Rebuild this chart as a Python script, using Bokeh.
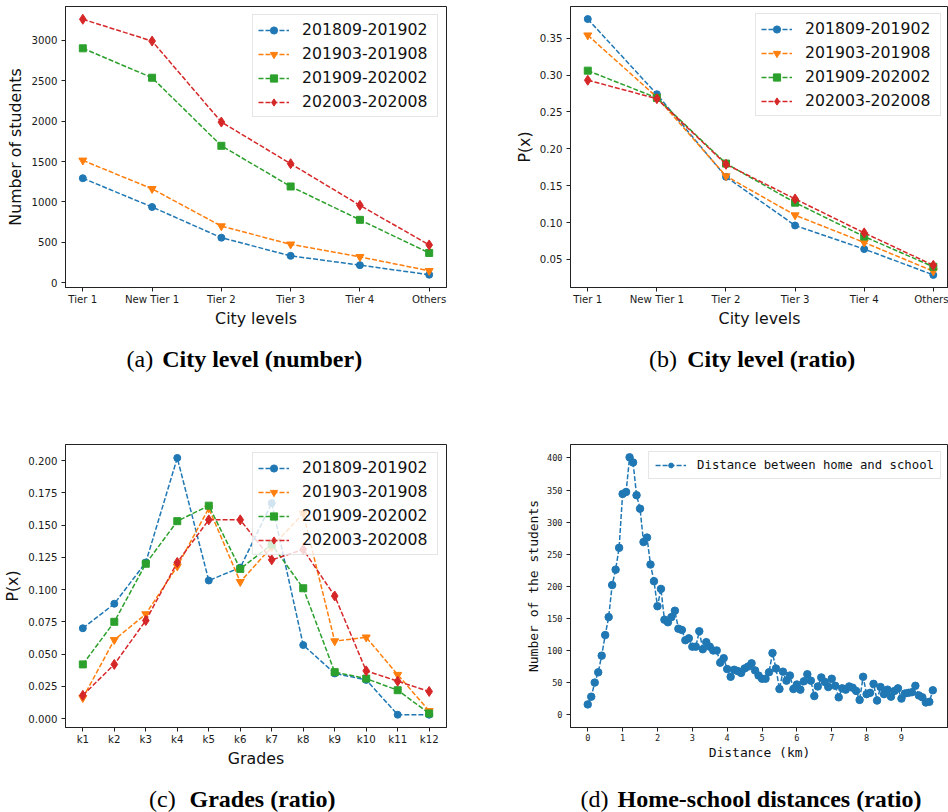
from bokeh.plotting import figure
from bokeh.layouts import column, row
from bokeh.models import FixedTicker, Range1d, PrintfTickFormatter
from bokeh.core.properties import value
from bokeh.embed import file_html
from bokeh.resources import INLINE

# ---------------- data ----------------
city_levels = ["Tier 1", "New Tier 1", "Tier 2", "Tier 3", "Tier 4", "Others"]
periods = ["201809-201902", "201903-201908", "201909-202002", "202003-202008"]

city_count_201809 = [1293, 937, 557, 332, 217, 98]
city_count_201903 = [1514, 1162, 700, 475, 319, 147]
city_count_201909 = [2902, 2538, 1695, 1191, 778, 368]
city_count_202003 = [3262, 2992, 1989, 1473, 958, 467]

city_ratio_201809 = [0.376, 0.274, 0.162, 0.096, 0.064, 0.029]
city_ratio_201903 = [0.354, 0.270, 0.163, 0.110, 0.073, 0.034]
city_ratio_201909 = [0.306, 0.269, 0.180, 0.127, 0.081, 0.040]
city_ratio_202003 = [0.293, 0.268, 0.179, 0.132, 0.086, 0.042]

grades = ["k1", "k2", "k3", "k4", "k5", "k6", "k7", "k8", "k9", "k10", "k11", "k12"]
grade_ratio_201809 = [0.070, 0.089, 0.121, 0.202, 0.107, 0.117, 0.167, 0.057, 0.035, 0.030, 0.003, 0.003]
grade_ratio_201903 = [0.016, 0.061, 0.081, 0.118, 0.163, 0.106, 0.133, 0.159, 0.060, 0.063, 0.034, 0.006]
grade_ratio_201909 = [0.042, 0.075, 0.120, 0.153, 0.165, 0.116, 0.135, 0.101, 0.036, 0.031, 0.022, 0.004]
grade_ratio_202003 = [0.018, 0.042, 0.076, 0.121, 0.154, 0.154, 0.123, 0.131, 0.095, 0.037, 0.029, 0.021]

distance_km = [0.0, 0.1, 0.2, 0.3, 0.4, 0.5, 0.6, 0.7, 0.8, 0.9,
               1.0, 1.1, 1.2, 1.3, 1.4, 1.5, 1.6, 1.7, 1.8, 1.9,
               2.0, 2.1, 2.2, 2.3, 2.4, 2.5, 2.6, 2.7, 2.8, 2.9,
               3.0, 3.1, 3.2, 3.3, 3.4, 3.5, 3.6, 3.7, 3.8, 3.9,
               4.0, 4.1, 4.2, 4.3, 4.4, 4.5, 4.6, 4.7, 4.8, 4.9,
               5.0, 5.1, 5.2, 5.3, 5.4, 5.5, 5.6, 5.7, 5.8, 5.9,
               6.0, 6.1, 6.2, 6.3, 6.4, 6.5, 6.6, 6.7, 6.8, 6.9,
               7.0, 7.1, 7.2, 7.3, 7.4, 7.5, 7.6, 7.7, 7.8, 7.9,
               8.0, 8.1, 8.2, 8.3, 8.4, 8.5, 8.6, 8.7, 8.8, 8.9,
               9.0, 9.1, 9.2, 9.3, 9.4, 9.5, 9.6, 9.7, 9.8, 9.9]
distance_counts = [16, 28, 50, 66, 92, 124, 152, 202, 226, 260,
                   344, 347, 401, 393, 342, 321, 269, 276, 234, 208,
                   169, 196, 148, 144, 152, 162, 134, 132, 116, 119,
                   106, 106, 130, 102, 113, 106, 100, 100, 81, 88,
                   71, 59, 70, 68, 65, 72, 75, 80, 69, 61,
                   56, 56, 66, 96, 72, 40, 67, 53, 61, 40,
                   47, 39, 52, 63, 53, 29, 44, 58, 51, 43,
                   56, 45, 27, 41, 39, 44, 42, 37, 23, 59,
                   32, 34, 48, 22, 43, 32, 39, 28, 37, 41,
                   25, 33, 34, 35, 45, 30, 27, 19, 20, 38]

count_ticks = [0, 500, 1000, 1500, 2000, 2500, 3000]
ratio_ticks_b = [0.05, 0.10, 0.15, 0.20, 0.25, 0.30, 0.35]
ratio_ticks_c = [0.000, 0.025, 0.050, 0.075, 0.100, 0.125, 0.150, 0.175, 0.200]
dist_x_ticks = [0, 1, 2, 3, 4, 5, 6, 7, 8, 9]
dist_y_ticks = [0, 50, 100, 150, 200, 250, 300, 350, 400]

caption_tags_top = ["(a)", "(b)"]
caption_titles_top = ["City level (number)", "City level (ratio)"]
caption_tags_bottom = ["(c)", "(d)"]
caption_titles_bottom = ["Grades (ratio)", "Home-school distances (ratio)"]

# ---------------- style ----------------
COLORS = ["#1f77b4", "#ff7f0e", "#2ca02c", "#d62728"]
MARKERS = ["circle", "inverted_triangle", "square", "diamond"]
MSIZES = [7, 8, 7, 10]
DASH = "5 2"
EDGE = "#222222"
SANS = "DejaVu Sans"
MONO = "DejaVu Sans Mono"
SERIF = "Liberation Serif"


def make_fig(xr, yr, height, left, right, top, bottom):
    p = figure(width=474, height=height, x_range=Range1d(*xr), y_range=Range1d(*yr),
               output_backend="svg", toolbar_location=None,
               min_border_left=left, min_border_right=right,
               min_border_top=top, min_border_bottom=bottom)
    p.xgrid.visible = False
    p.ygrid.visible = False
    p.outline_line_color = EDGE
    p.outline_line_width = 1
    p.background_fill_color = "white"
    p.border_fill_color = "white"
    for ax in p.axis:
        ax.axis_line_color = EDGE
        ax.major_tick_line_color = EDGE
        ax.major_tick_out = 4
        ax.major_tick_in = 0
        ax.minor_tick_line_color = None
        ax.major_label_text_font = SANS
        ax.major_label_text_font_size = "10.2px"
        ax.major_label_text_color = "#1a1a1a"
        ax.axis_label_text_font = SANS
        ax.axis_label_text_font_size = "15.8px"
        ax.axis_label_text_font_style = "normal"
        ax.axis_label_text_color = "#111111"
    p.xaxis.major_label_standoff = 2
    p.xaxis.axis_label_standoff = 1
    p.yaxis.major_label_standoff = 4
    p.yaxis.axis_label_standoff = 4
    return p


def style_legend(p, margin, label_width=130):
    lg = p.legend[0]
    lg.location = "top_right"
    lg.margin = margin
    lg.padding = 5
    lg.spacing = 5
    lg.glyph_height = 18
    lg.glyph_width = 31
    lg.label_height = 18
    lg.label_width = label_width
    lg.label_standoff = 13
    lg.label_text_font = SANS
    lg.label_text_font_size = "15.7px"
    lg.label_text_color = "#111111"
    lg.border_line_color = "#cccccc"
    lg.border_line_width = 1
    lg.background_fill_alpha = 0.8


def plot_series(p, xs, series_list):
    for i, ys in enumerate(series_list):
        p.line(xs, ys, line_color=COLORS[i], line_width=1.5, line_dash=DASH,
               legend_label=periods[i])
        p.scatter(xs, ys, marker=MARKERS[i], size=MSIZES[i], fill_color=COLORS[i],
                  line_color=COLORS[i], legend_label=periods[i])


def caption_strip(height, tags, titles, tag_x, title_x, mid_y):
    s = figure(width=948, height=height, x_range=Range1d(0, 948), y_range=Range1d(0, height),
               output_backend="svg", toolbar_location=None, x_axis_type=None, y_axis_type=None,
               min_border=0)
    s.xgrid.visible = False
    s.ygrid.visible = False
    s.outline_line_color = None
    s.text(x=tag_x, y=[mid_y] * len(tags), text=tags, text_font=value(SERIF),
           text_font_size="24px", text_baseline="middle", text_align="left",
           text_color="black")
    s.text(x=title_x, y=[mid_y] * len(titles), text=titles, text_font=value(SERIF),
           text_font_size="24px", text_font_style="bold", text_baseline="middle",
           text_align="left", text_color="black")
    return s


# ---------------- panel (a) ----------------
xa = list(range(len(city_levels)))
pa = make_fig((-0.25, 5.25), (-60, 3420), 330, 65, 28, 6, 41)
plot_series(pa, xa, [city_count_201809, city_count_201903, city_count_201909, city_count_202003])
pa.xaxis.ticker = FixedTicker(ticks=xa)
pa.xaxis.major_label_overrides = {i: s for i, s in enumerate(city_levels)}
pa.yaxis.ticker = FixedTicker(ticks=count_ticks)
pa.xaxis.axis_label = "City levels"
pa.yaxis.axis_label = "Number of students"
style_legend(pa, 8)

# ---------------- panel (b) ----------------
pb = make_fig((-0.25, 5.22), (0.0119, 0.393), 330, 96, 0, 6, 41)
plot_series(pb, xa, [city_ratio_201809, city_ratio_201903, city_ratio_201909, city_ratio_202003])
pb.xaxis.ticker = FixedTicker(ticks=xa)
pb.xaxis.major_label_overrides = {i: s for i, s in enumerate(city_levels)}
pb.yaxis.ticker = FixedTicker(ticks=ratio_ticks_b)
pb.yaxis.formatter = PrintfTickFormatter(format="%.2f")
pb.xaxis.axis_label = "City levels"
pb.yaxis.axis_label = "P(x)"
pb.yaxis.axis_label_standoff = 3
style_legend(pb, 7)

# ---------------- panel (c) ----------------
xc = list(range(len(grades)))
pc = make_fig((-0.55, 11.55), (-0.0069, 0.2124), 370, 65, 28, 38, 49)
plot_series(pc, xc, [grade_ratio_201809, grade_ratio_201903, grade_ratio_201909, grade_ratio_202003])
pc.xaxis.ticker = FixedTicker(ticks=xc)
pc.xaxis.major_label_overrides = {i: s for i, s in enumerate(grades)}
pc.yaxis.ticker = FixedTicker(ticks=ratio_ticks_c)
pc.yaxis.formatter = PrintfTickFormatter(format="%.3f")
pc.xaxis.axis_label = "Grades"
pc.yaxis.axis_label = "P(x)"
pc.yaxis.axis_label_standoff = 3
style_legend(pc, 8)

# ---------------- panel (d) ----------------
pd_ = make_fig((-0.495, 10.35), (-20, 421), 370, 96, 0, 38, 49)
pd_.line(distance_km, distance_counts, line_color=COLORS[0], line_width=1.5, line_dash=DASH,
         legend_label="Distance between home and school")
pd_.scatter(distance_km, distance_counts, marker="circle", size=7.5, fill_color=COLORS[0],
            line_color=COLORS[0], legend_label="Distance between home and school")
pd_.xaxis.ticker = FixedTicker(ticks=dist_x_ticks)
pd_.yaxis.ticker = FixedTicker(ticks=dist_y_ticks)
pd_.xaxis.axis_label = "Distance (km)"
pd_.yaxis.axis_label = "Number of the students"
for ax in pd_.axis:
    ax.major_label_text_font = MONO
    ax.major_label_text_font_size = "8.6px"
    ax.axis_label_text_font = MONO
    ax.axis_label_text_font_size = "13px"
pd_.yaxis.axis_label_standoff = 3
lg = pd_.legend[0]
lg.location = "top_right"
lg.margin = 7
lg.padding = 6
lg.spacing = 0
lg.glyph_height = 12
lg.glyph_width = 31
lg.label_height = 12
lg.label_standoff = 11
lg.label_text_font = MONO
lg.label_text_font_size = "12.3px"
lg.label_text_color = "#111111"
lg.border_line_color = "#cccccc"
lg.background_fill_alpha = 0.8

# ---------------- captions ----------------
cap_top = caption_strip(76, caption_tags_top, caption_titles_top, [126, 648.5], [161.7, 686.7], 48)
cap_bottom = caption_strip(36, caption_tags_bottom, caption_titles_bottom, [148.5, 580], [189, 617], 13.5)

layout = column(row(pa, pb, spacing=0), cap_top, row(pc, pd_, spacing=0), cap_bottom, spacing=0)

html = file_html(layout, INLINE, title="Student distribution")
with open("out.html", "w") as f:
    f.write(html)
